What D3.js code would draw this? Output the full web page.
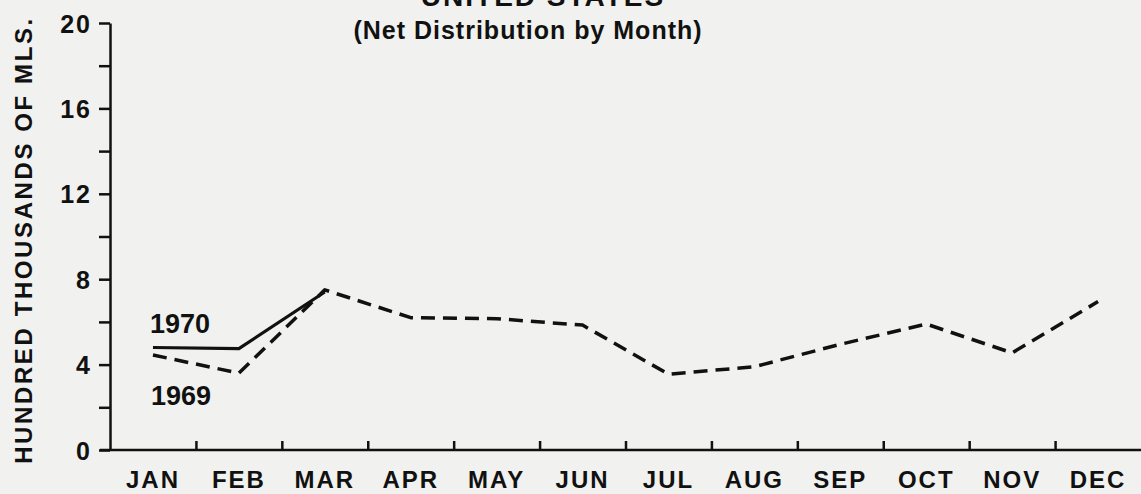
<!DOCTYPE html>
<html>
    <head>
        <meta charset="utf-8" />
        <script src="https://d3js.org/d3.v7.min.js"></script>
        <style>
            body { margin: 0; background: #f1f1ef; }
            svg { display: block; font-family: 'Liberation Sans', Arial, sans-serif; }
            text { fill: #111; }
        </style>
    </head>
    <body>
        <svg width="1141" height="494"></svg>
        <script>
            const months = ['JAN', 'FEB', 'MAR', 'APR', 'MAY', 'JUN', 'JUL', 'AUG', 'SEP', 'OCT', 'NOV', 'DEC']
            const values1970 = [4.8, 4.75, 7.4]
            const values1969 = [4.45, 3.6, 7.5, 6.2, 6.15, 5.85, 3.55, 3.9, 4.95, 5.9, 4.55, 6.95]
            const yTicks = [0, 2, 4, 6, 8, 10, 12, 14, 16, 18, 20]
            const yLabels = [0, 4, 8, 12, 16, 20]

            const svg = d3.select('svg')
            const ink = '#111'

            const x = d3.scaleBand().domain(months).range([110, 1141])
            const xEdge = d3.scaleLinear().domain([0, 12]).range([110, 1141])
            const y = d3.scaleLinear().domain([0, 20]).range([450, 23])
            const cx = (i) => x(months[i]) + x.bandwidth() / 2

            // titles (top one is cut by the page edge, as in the scan)
            svg.append('text')
                .attr('x', 543).attr('y', 6)
                .attr('text-anchor', 'middle')
                .style('font-size', '28px').style('font-weight', 'bold')
                .style('letter-spacing', '2px')
                .text('UNITED STATES')
            svg.append('text')
                .attr('x', 528).attr('y', 39)
                .attr('text-anchor', 'middle')
                .style('font-size', '25px').style('font-weight', 'bold')
                .style('letter-spacing', '1px')
                .text('(Net Distribution by Month)')

            // y axis
            const yAxis = svg.append('g')
                .attr('transform', 'translate(110,0)')
                .call(d3.axisLeft(y).tickValues(yTicks).tickSize(11).tickSizeOuter(0)
                    .tickFormat((d) => (yLabels.includes(d) ? d : '')))
            yAxis.selectAll('path, line').attr('stroke', ink).attr('stroke-width', 2.5)
            yAxis.selectAll('text')
                .attr('x', -18).attr('dy', '0.36em')
                .style('font-size', '25px').style('font-weight', 'bold')
                .style('letter-spacing', '2px')
                .attr('fill', ink)

            svg.append('text')
                .attr('transform', 'translate(32,240) rotate(-90)')
                .attr('text-anchor', 'middle')
                .style('font-size', '24px').style('font-weight', 'bold')
                .style('letter-spacing', '2.6px')
                .text('HUNDRED THOUSANDS OF MLS.')

            // x axis: boundary ticks pointing up
            const xTicks = svg.append('g')
                .attr('transform', 'translate(0,450)')
                .call(d3.axisBottom(xEdge).tickValues(d3.range(1, 12)).tickSize(-9).tickSizeOuter(0).tickFormat(''))
            xTicks.selectAll('path, line').attr('stroke', ink).attr('stroke-width', 2.5)
            xTicks.select('.domain').attr('d', 'M100,0H1141')

            const xLabels = svg.append('g')
                .attr('transform', 'translate(0,450)')
                .call(d3.axisBottom(x).tickSize(0))
            xLabels.select('.domain').remove()
            xLabels.selectAll('text')
                .attr('y', 38).attr('dy', 0)
                .style('font-size', '24px').style('font-weight', 'bold')
                .style('letter-spacing', '2px')
                .attr('fill', ink)

            // lines
            const line = d3.line().x((d, i) => cx(i)).y((d) => y(d))

            svg.append('path')
                .datum(values1969)
                .attr('d', line)
                .attr('fill', 'none').attr('stroke', ink)
                .attr('stroke-width', 3.5).attr('stroke-dasharray', '14,8')
                .attr('stroke-linejoin', 'round')

            svg.append('path')
                .datum(values1970)
                .attr('d', line)
                .attr('fill', 'none').attr('stroke', ink)
                .attr('stroke-width', 3.2).attr('stroke-linejoin', 'round')

            svg.append('text')
                .attr('x', 150).attr('y', 333)
                .style('font-size', '27px').style('font-weight', 'bold')
                .text('1970')
            svg.append('text')
                .attr('x', 151).attr('y', 405)
                .style('font-size', '27px').style('font-weight', 'bold')
                .text('1969')
        </script>
    </body>
</html>
